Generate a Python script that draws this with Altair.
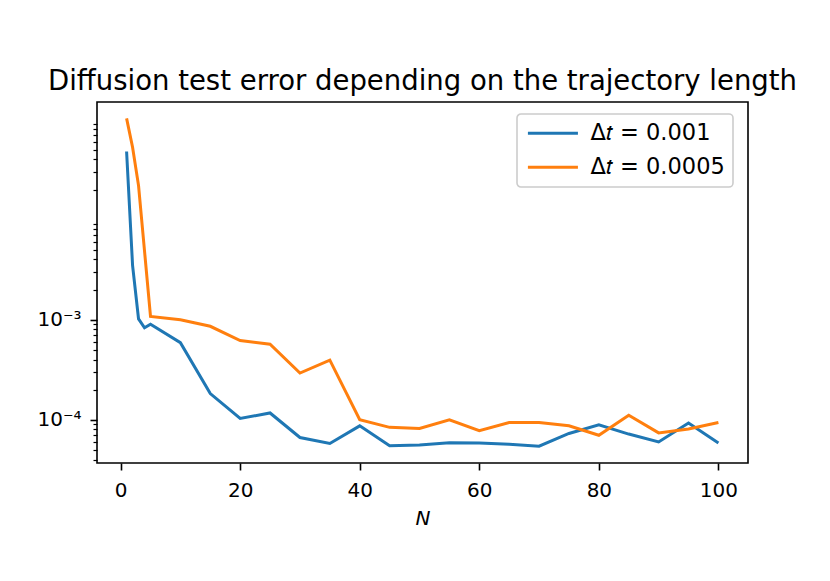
import altair as alt
import pandas as pd

# ---- data ----
series_labels = ["Δ𝑡 = 0.001", "Δ𝑡 = 0.0005\u2009"]

n_blue = [1, 2, 3, 4, 5, 10, 15, 20, 25, 30, 35, 40, 45, 50, 55, 60, 65, 70, 75, 80, 85, 90, 95, 100]
err_blue = [0.048, 3.5e-3, 1.02e-3, 8.3e-4, 9.0e-4, 5.9e-4, 1.83e-4, 1.03e-4, 1.17e-4, 6.65e-5,
            5.8e-5, 8.7e-5, 5.5e-5, 5.6e-5, 5.9e-5, 5.85e-5, 5.7e-5, 5.45e-5, 7.3e-5, 8.9e-5,
            7.2e-5, 6.0e-5, 9.3e-5, 5.85e-5]

n_orange = [1, 2, 3, 5, 10, 15, 20, 25, 30, 35, 40, 45, 50, 55, 60, 65, 70, 75, 80, 85, 90, 95, 100]
err_orange = [0.103, 0.053, 0.0219, 1.08e-3, 1.0e-3, 8.6e-4, 6.2e-4, 5.7e-4, 2.93e-4, 3.95e-4,
              1.0e-4, 8.4e-5, 8.2e-5, 1.0e-4, 7.8e-5, 9.4e-5, 9.4e-5, 8.7e-5, 7.0e-5, 1.11e-4,
              7.4e-5, 8.1e-5, 9.4e-5]

x_ticks = [0, 20, 40, 60, 80, 100]
y_major = [1e-4, 1e-3]
y_minor = [m * 10.0 ** k for k in (-5, -4, -3, -2) for m in range(2, 10)]
y_minor = [v for v in y_minor if 3.7e-5 < v < 0.15]

df = pd.concat([
    pd.DataFrame({"N": n_blue, "err": err_blue, "series": series_labels[0]}),
    pd.DataFrame({"N": n_orange, "err": err_orange, "series": series_labels[1]}),
])

FONT = "DejaVu Sans"
major_test = "datum.value == 0.001 || datum.value == 0.0001"

chart = alt.Chart(df).mark_line(strokeWidth=3, clip=True).encode(
    x=alt.X("N:Q",
            scale=alt.Scale(domain=[-3.95, 104.95], nice=False, zero=False),
            axis=alt.Axis(values=x_ticks, title="N", titleFontStyle="italic",
                          titleFontSize=20, titleFontWeight="normal", titleFont=FONT,
                          titleColor="black", titlePadding=8,
                          labelFontSize=20, labelFont=FONT, labelColor="black",
                          labelPadding=10, tickSize=7, tickWidth=1.6, tickColor="black",
                          domain=False, grid=False, labelFlush=False)),
    y=alt.Y("err:Q",
            scale=alt.Scale(type="log", domain=[3.7e-5, 0.15], nice=False),
            axis=alt.Axis(values=y_major + y_minor, title=None,
                          labelExpr="datum.value == 0.001 ? '10⁻³' : (datum.value == 0.0001 ? '10⁻⁴' : '')",
                          labelFontSize=20, labelFont=FONT, labelColor="black",
                          labelPadding=9, labelOverlap=False, labelFlush=False,
                          tickSize={"condition": {"test": major_test, "value": 7}, "value": 4},
                          tickWidth={"condition": {"test": major_test, "value": 1.6}, "value": 1.2},
                          tickColor="black", domain=False, grid=False)),
    color=alt.Color("series:N",
                    scale=alt.Scale(domain=series_labels, range=["#1f77b4", "#ff7f0e"]),
                    legend=alt.Legend(title=None, orient="none", legendX=420, legendY=12,
                                      symbolType="M-1,0H5", symbolSize=278, symbolStrokeWidth=3,
                                      labelFontSize=22.5, labelFont=FONT, labelColor="black",
                                      labelOffset=43, padding=8, rowPadding=11,
                                      strokeColor="#cccccc", fillColor="white",
                                      cornerRadius=4)),
).properties(
    width=651, height=361,
    title=alt.TitleParams("Diffusion test error depending on the trajectory length",
                          fontSize=27.5, font=FONT, fontWeight="normal", color="black",
                          anchor="middle", baseline="alphabetic", offset=-15),
    autosize=alt.AutoSizeParams(type="none"),
    padding={"left": 89, "top": 94, "right": 74, "bottom": 110},
).configure(
    font=FONT, background="white"
).configure_view(
    stroke="black", strokeWidth=1.6
).configure_legend(
    strokeWidth=1.6
)

chart.save("out.html", embed_options={"renderer": "svg", "actions": False})
